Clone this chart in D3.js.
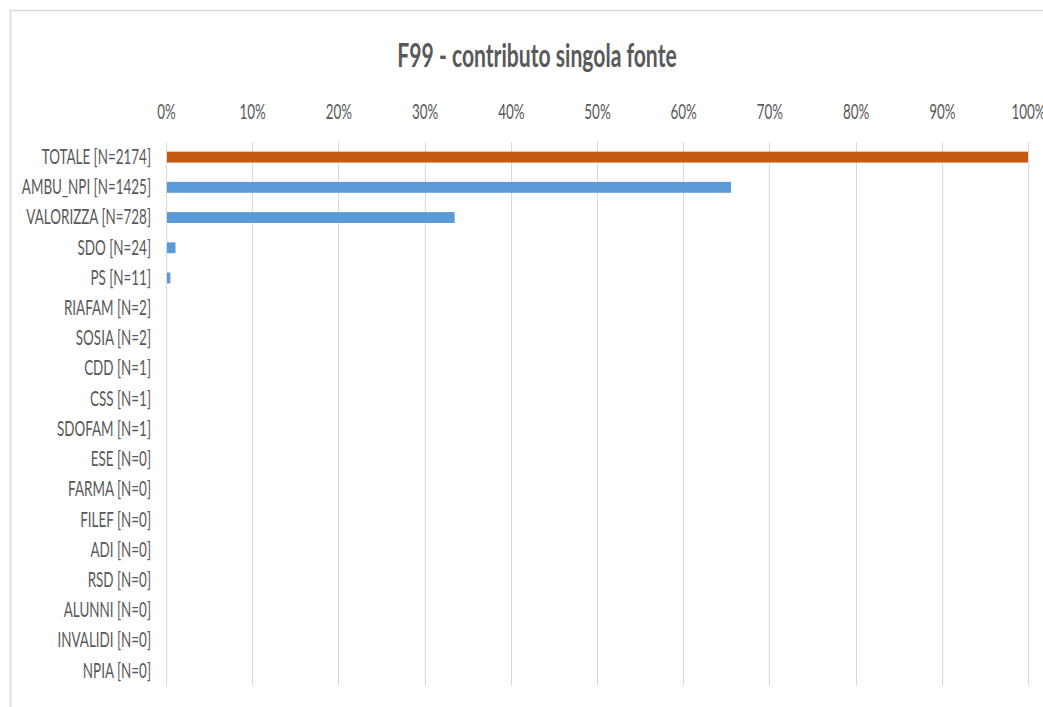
<!DOCTYPE html>
<html>
<head>
<meta charset="utf-8">
<script src="https://cdn.jsdelivr.net/npm/d3@7/dist/d3.min.js"></script>
<style>
  html, body { margin: 0; padding: 0; background: #fff; }
  svg { display: block; }
  text { font-family: Lato, "Open Sans", sans-serif; }
</style>
</head>
<body>
<svg id="chart" width="1043" height="707"></svg>
<script>
// Sources and their record counts
const sources = ["TOTALE", "AMBU_NPI", "VALORIZZA", "SDO", "PS", "RIAFAM", "SOSIA", "CDD", "CSS",
  "SDOFAM", "ESE", "FARMA", "FILEF", "ADI", "RSD", "ALUNNI", "INVALIDI", "NPIA"];
const counts = [2174, 1425, 728, 24, 11, 2, 2, 1, 1, 1, 0, 0, 0, 0, 0, 0, 0, 0];
const totalCount = 2174;
const tickValues = [0, 0.1, 0.2, 0.3, 0.4, 0.5, 0.6, 0.7, 0.8, 0.9, 1];
const chartTitle = "F99 - contributo singola fonte";

const rows = sources.map((s, i) => ({
  label: `${s} [N=${counts[i]}]`,
  share: counts[i] / totalCount,
  total: s === "TOTALE"
}));

const W = 1043, H = 707;
const margin = { top: 142, right: 15, bottom: 21, left: 166 };
const textSX = 0.64; // narrow lettering

const svg = d3.select("#chart");

// chart area frame
svg.append("rect")
  .attr("x", 10.5).attr("y", 10.5)
  .attr("width", W + 20).attr("height", H + 20)
  .attr("fill", "none").attr("stroke", "#d9d9d9").attr("stroke-width", 1.5);

const x = d3.scaleLinear().domain([0, 1]).range([margin.left, W - margin.right]);
const y = d3.scaleBand().domain(rows.map(d => d.label))
  .range([margin.top, H - margin.bottom]).paddingInner(0.64).paddingOuter(0.32);

// vertical gridlines
svg.append("g").selectAll("line").data(tickValues).join("line")
  .attr("x1", d => Math.round(x(d)) + 0.5).attr("x2", d => Math.round(x(d)) + 0.5)
  .attr("y1", margin.top).attr("y2", H - margin.bottom)
  .attr("stroke", "#d9d9d9").attr("stroke-width", 1);

// top percentage axis
const xAxis = svg.append("g")
  .attr("transform", `translate(0,${margin.top})`)
  .call(d3.axisTop(x).tickValues(tickValues).tickFormat(d3.format(".0%")).tickSize(0).tickPadding(0));
xAxis.select(".domain").remove();
xAxis.selectAll(".tick text")
  .attr("y", -23)
  .attr("transform", `scale(${textSX},1)`)
  .attr("fill", "#595959").attr("font-size", 21).attr("font-family", "Lato, sans-serif");

// bars
svg.append("g").selectAll("rect").data(rows).join("rect")
  .attr("x", x(0))
  .attr("y", d => y(d.label))
  .attr("width", d => x(d.share) - x(0))
  .attr("height", y.bandwidth())
  .attr("fill", d => d.total ? "#C55A11" : "#5B9BD5");

// category axis (left)
const yAxis = svg.append("g")
  .attr("transform", `translate(${margin.left},0)`)
  .call(d3.axisLeft(y).tickSize(0).tickPadding(15));
yAxis.select(".domain").attr("stroke", "#d9d9d9");
yAxis.selectAll(".tick text")
  .attr("transform", `translate(-15,0) scale(${textSX},1) translate(15,0)`)
  .attr("x", -15)
  .attr("fill", "#595959").attr("font-size", 21).attr("font-family", "Lato, sans-serif");

// title
svg.append("text")
  .attr("transform", `translate(537,67) scale(${textSX},1)`)
  .attr("text-anchor", "middle")
  .attr("font-size", 33).attr("font-weight", "bold")
  .attr("fill", "#595959")
  .text(chartTitle);
</script>
</body>
</html>
